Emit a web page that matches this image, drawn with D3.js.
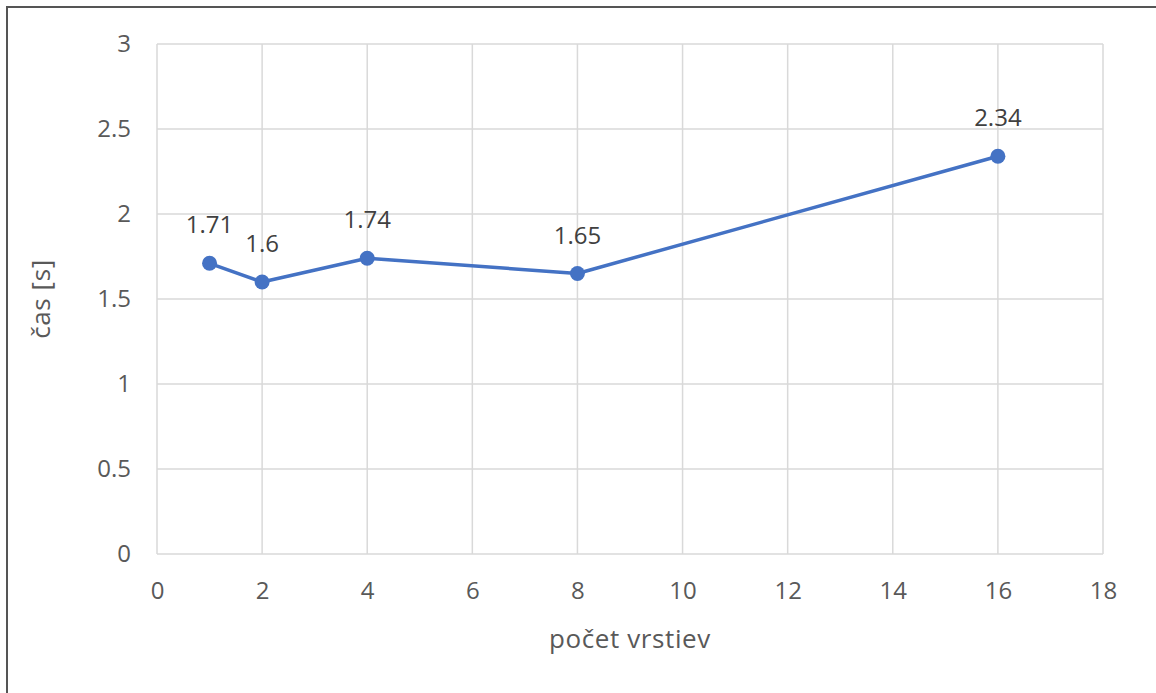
<!DOCTYPE html>
<html>
<head>
<meta charset="utf-8">
<script src="https://cdn.jsdelivr.net/npm/d3@7"></script>
<style>
  html, body { margin: 0; padding: 0; background: #fff; }
  svg { display: block; font-family: "Open Sans", "Noto Sans", sans-serif; }
</style>
</head>
<body>
<svg id="chart" width="1156" height="693"></svg>
<script>
// Layers in the model and the measured time for each
const layers = [1, 2, 4, 8, 16];
const times = [1.71, 1.6, 1.74, 1.65, 2.34];
const xTicks = [0, 2, 4, 6, 8, 10, 12, 14, 16, 18];
const yTicks = [0, 0.5, 1, 1.5, 2, 2.5, 3];
const xTitle = "počet vrstiev";
const yTitle = "čas [s]";

const svg = d3.select("#chart");
const W = 1156, H = 693;
const plot = { left: 157, right: 1103, top: 44, bottom: 554 };
const FONT = "'Open Sans', 'Noto Sans', sans-serif";

// Outer frame (runs off the right and bottom edges)
svg.append("rect")
  .attr("x", 7).attr("y", 7)
  .attr("width", W).attr("height", H)
  .attr("fill", "#fff")
  .attr("stroke", "#555").attr("stroke-width", 2);

const x = d3.scaleLinear().domain([0, 18]).range([plot.left, plot.right]);
const y = d3.scaleLinear().domain([0, 3]).range([plot.bottom, plot.top]);

// Gridlines
const grid = svg.append("g").attr("stroke", "#d9d9d9").attr("stroke-width", 1.5);
grid.selectAll(".gx").data(xTicks).join("line")
  .attr("x1", d => x(d)).attr("x2", d => x(d))
  .attr("y1", plot.top).attr("y2", plot.bottom);
grid.selectAll(".gy").data(yTicks).join("line")
  .attr("x1", plot.left).attr("x2", plot.right)
  .attr("y1", d => y(d)).attr("y2", d => y(d));

// Axes (labels only, lines come from the grid)
const xAxis = svg.append("g")
  .attr("transform", `translate(0,${plot.bottom})`)
  .call(d3.axisBottom(x).tickValues(xTicks).tickSize(0).tickPadding(28).tickFormat(d3.format("")));
const yAxis = svg.append("g")
  .attr("transform", `translate(${plot.left},0)`)
  .call(d3.axisLeft(y).tickValues(yTicks).tickSize(0).tickPadding(26).tickFormat(d => String(d)));
[xAxis, yAxis].forEach(g => {
  g.select(".domain").remove();
  g.selectAll("text")
    .attr("fill", "#595959")
    .style("font-size", "24px")
    .style("font-family", FONT);
});

// Axis titles
svg.append("text")
  .attr("x", (plot.left + plot.right) / 2).attr("y", 648)
  .attr("text-anchor", "middle")
  .attr("fill", "#595959").style("font-size", "26px")
  .attr("letter-spacing", "0.6px")
  .text(xTitle);
svg.append("text")
  .attr("transform", `translate(50,${(plot.top + plot.bottom) / 2}) rotate(-90)`)
  .attr("text-anchor", "middle")
  .attr("fill", "#595959").style("font-size", "26px")
  .attr("letter-spacing", "0.6px")
  .text(yTitle);

// Series line and markers
const pts = layers.map((l, i) => ({ l, t: times[i] }));
svg.append("path")
  .datum(pts)
  .attr("fill", "none")
  .attr("stroke", "#4472C4")
  .attr("stroke-width", 3.5)
  .attr("stroke-linejoin", "round")
  .attr("d", d3.line().x(d => x(d.l)).y(d => y(d.t)));
svg.selectAll(".pt").data(pts).join("circle")
  .attr("cx", d => x(d.l)).attr("cy", d => y(d.t))
  .attr("r", 7.5)
  .attr("fill", "#4472C4");

// Value labels above each point
svg.selectAll(".lbl").data(pts).join("text")
  .attr("x", d => x(d.l)).attr("y", d => y(d.t) - 30)
  .attr("text-anchor", "middle")
  .attr("fill", "#404040").style("font-size", "24px")
  .text(d => String(d.t));
</script>
</body>
</html>
